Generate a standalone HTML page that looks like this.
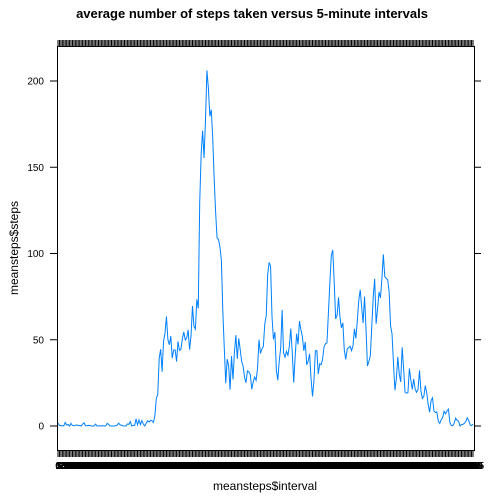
<!DOCTYPE html>
<html><head><meta charset="utf-8"><style>
html,body{margin:0;padding:0;background:#fff;}
svg{display:block;font-family:"Liberation Sans",Arial,sans-serif;}
</style></head><body>
<svg id="chart" width="504" height="504" viewBox="0 0 504 504" xmlns="http://www.w3.org/2000/svg">
<text x="252" y="18" text-anchor="middle" font-size="13" font-weight="bold">average number of steps taken versus 5-minute intervals</text>
<g id="xlabels"></g>
<g id="ticks"></g>
<rect x="57.5" y="46.5" width="417" height="404" fill="none" stroke="#000" stroke-width="1"/>
<polyline id="line" fill="none" stroke="#0080ff" stroke-width="1"/>
<text x="265" y="490" text-anchor="middle" font-size="12">meansteps$interval</text>
<text x="18" y="248" text-anchor="middle" font-size="12" transform="rotate(-90 18 248)">meansteps$steps</text>
</svg>
<script>
const intervals = [];
for (let h = 0; h < 24; h++) for (let m = 0; m < 60; m += 5) intervals.push(h * 100 + m);
const steps = [1.72,0.34,0.13,0.15,0.08,2.09,0.53,0.87,0,1.47,0.30,0.13,
0.32,0.68,0.15,0.34,0,1.11,1.83,0.17,0.17,0.38,0.26,0,
0,0,1.13,0,0,0.13,0,0.23,0,0,1.55,0.94,
0,0,0,0,0.21,0.62,1.62,0.58,0.49,0.08,0,0,
1.19,0.94,2.57,0,0.34,0.36,4.11,0.66,3.49,0.83,3.11,1.11,
0,1.57,3.0,2.25,3.32,2.96,2.09,6.06,16.02,18.34,39.45,44.49,
31.49,49.26,53.77,63.45,49.96,47.08,52.15,39.34,44.02,44.17,37.36,49.04,
43.81,44.38,50.51,54.51,49.92,50.98,55.68,44.32,52.26,69.55,57.85,56.15,
73.38,68.21,129.43,157.53,171.15,155.40,177.30,206.17,195.92,179.57,183.40,167.02,
143.45,124.04,109.11,108.11,103.72,95.96,66.21,45.23,24.79,38.75,34.98,21.06,
40.57,26.98,42.42,52.66,38.92,50.79,44.28,37.42,34.70,28.34,25.09,31.94,
31.36,29.68,21.32,25.55,28.38,26.47,33.43,49.98,42.04,44.60,46.04,59.19,
63.87,87.70,94.85,92.77,63.40,50.17,54.47,32.42,26.53,37.74,45.06,67.28,
42.34,39.89,43.26,40.98,46.25,56.43,42.75,25.13,39.96,53.55,47.32,60.81,
55.75,51.96,43.58,48.70,35.47,37.55,41.85,27.51,17.11,26.08,43.62,43.77,
30.02,36.08,35.49,38.85,45.96,47.75,48.13,65.32,82.91,98.66,102.11,83.96,
62.13,64.13,74.55,63.17,56.91,59.77,43.87,38.57,44.66,45.45,46.21,43.68,
46.62,56.30,50.72,61.23,72.72,78.94,68.94,59.66,75.09,56.51,34.77,37.45,
40.68,58.02,74.70,85.32,59.26,67.77,77.70,74.25,85.34,99.45,86.58,85.60,
84.87,77.83,58.04,53.36,36.32,20.72,27.40,40.02,30.21,25.55,45.66,33.53,
19.62,19.02,19.34,33.34,26.81,21.17,27.30,21.34,19.55,21.32,32.30,20.15,
15.94,17.23,23.45,19.25,12.45,8.02,14.66,16.30,8.68,7.79,8.13,2.62,
1.45,3.68,4.81,8.51,7.08,8.70,9.75,2.21,0.32,0.11,1.60,4.60,
3.30,2.85,0,0.83,0.96,1.58,2.60,4.70,3.30,0.64,0.23,1.08];
const yTicks = [0, 50, 100, 150, 200];

const NS = "http://www.w3.org/2000/svg";
const X0 = 58, X1 = 473;
function xs(i) { return X0 + i * (X1 - X0) / (intervals.length - 1); }
function ys(v) { return 426 - v * 1.7250; }

const line = document.getElementById('line');
line.setAttribute('points', steps.map((v, i) => xs(i).toFixed(2) + ',' + ys(v).toFixed(2)).join(' '));

const tg = document.getElementById('ticks');
const lg = document.getElementById('xlabels');
intervals.forEach((iv, i) => {
  const x = xs(i).toFixed(2);
  const t1 = document.createElementNS(NS, 'line');
  
  
  t1.setAttribute('x1', x); t1.setAttribute('x2', x);
  t1.setAttribute('y1', 450.5); t1.setAttribute('y2', 457);
  t1.setAttribute('stroke', '#000');
  tg.appendChild(t1);
  const t2 = document.createElementNS(NS, 'line');
  
  
  t2.setAttribute('x1', x); t2.setAttribute('x2', x);
  t2.setAttribute('y1', 40); t2.setAttribute('y2', 46.5);
  t2.setAttribute('stroke', '#000');
  tg.appendChild(t2);
  const tx = document.createElementNS(NS, 'text');
  
  
  tx.setAttribute('x', x); tx.setAttribute('y', 469);
  tx.setAttribute('text-anchor', 'middle');
  tx.setAttribute('font-size', '10');
  tx.setAttribute('font-weight', 'bold');
  tx.textContent = iv;
  lg.appendChild(tx);
});
yTicks.forEach(v => {
  const y = ys(v).toFixed(2);
  const a = document.createElementNS(NS, 'line');
  
  
  a.setAttribute('x1', 50); a.setAttribute('x2', 57.5);
  a.setAttribute('y1', y); a.setAttribute('y2', y);
  a.setAttribute('stroke', '#000');
  tg.appendChild(a);
  const b = document.createElementNS(NS, 'line');
  
  
  b.setAttribute('x1', 474.5); b.setAttribute('x2', 481);
  b.setAttribute('y1', y); b.setAttribute('y2', y);
  b.setAttribute('stroke', '#000');
  tg.appendChild(b);
  const t = document.createElementNS(NS, 'text');
  
  
  t.setAttribute('x', 44); t.setAttribute('y', (ys(v) + 3.5).toFixed(2));
  t.setAttribute('text-anchor', 'end');
  t.setAttribute('font-size', '10');
  t.textContent = v;
  tg.appendChild(t);
});
</script>
</body></html>
